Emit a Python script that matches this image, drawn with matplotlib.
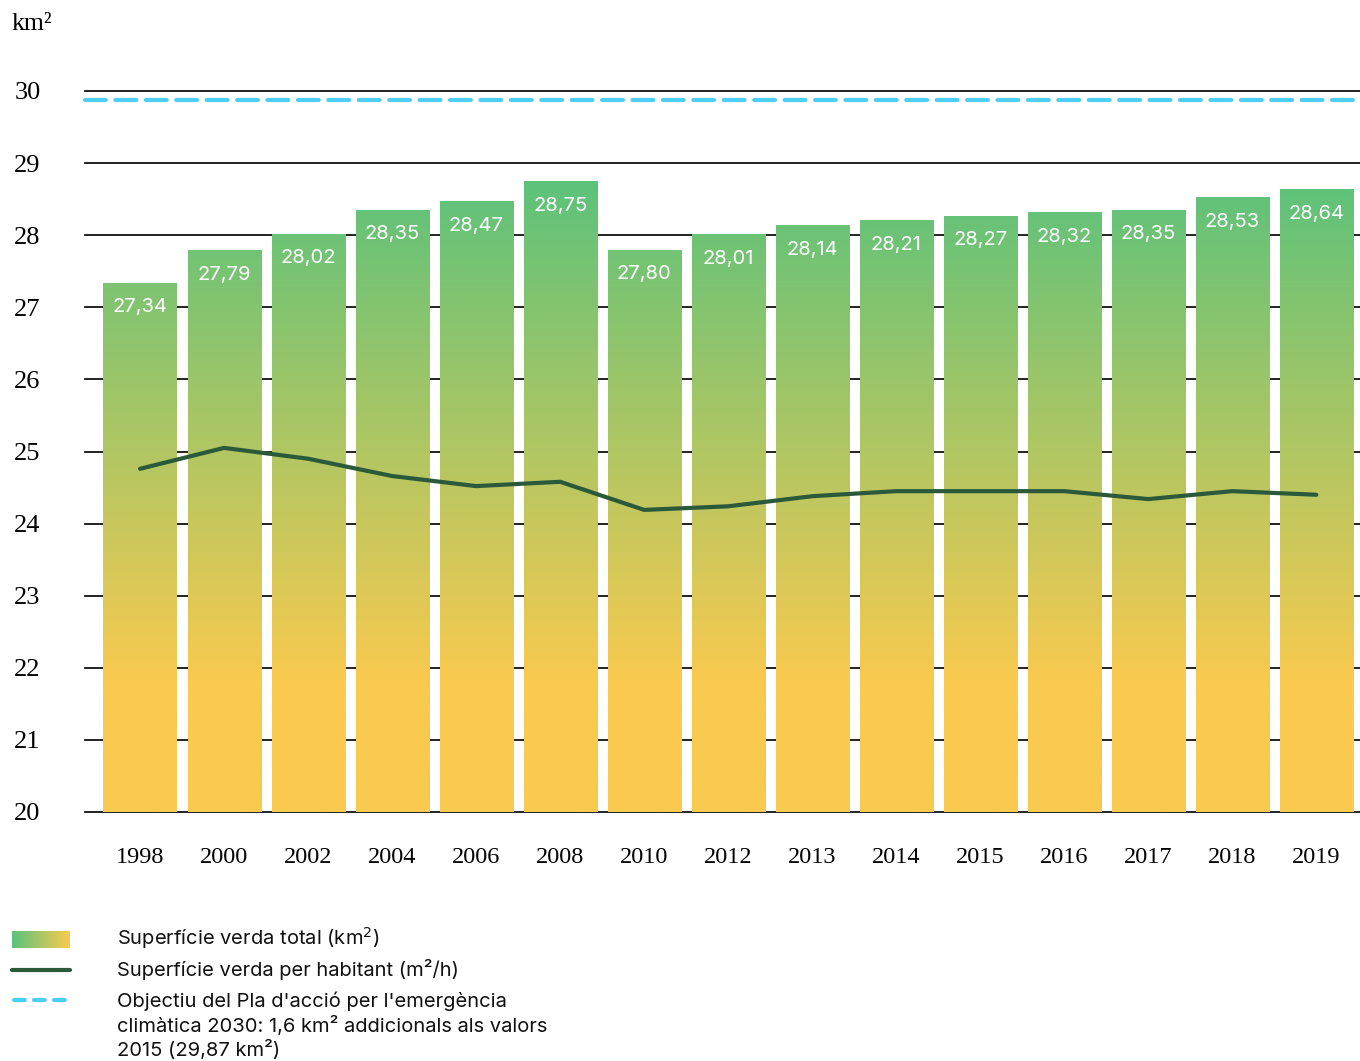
import matplotlib
matplotlib.use("Agg")
import matplotlib.pyplot as plt
import numpy as np
from matplotlib.colors import LinearSegmentedColormap
from matplotlib.lines import Line2D

years = ["1998", "2000", "2002", "2004", "2006", "2008", "2010", "2012",
         "2013", "2014", "2015", "2016", "2017", "2018", "2019"]
total_km2 = [27.34, 27.79, 28.02, 28.35, 28.47, 28.75, 27.80, 28.01,
             28.14, 28.21, 28.27, 28.32, 28.35, 28.53, 28.64]
per_habitant = [24.76, 25.05, 24.90, 24.66, 24.52, 24.58, 24.19, 24.24,
                24.38, 24.45, 24.45, 24.45, 24.34, 24.45, 24.40]
objective = 29.87
yticks = [20, 21, 22, 23, 24, 25, 26, 27, 28, 29, 30]

GREEN = "#5cc27b"
YELLOW = "#f9ca4f"
LINE = "#2b5a3a"
CYAN = "#4dcff5"

cmap = LinearSegmentedColormap.from_list("gy", [YELLOW, GREEN])

fig = plt.figure(figsize=(13.6, 10.61), dpi=100)
ax = fig.add_axes([85/1360, (1061-812)/1061, 1 - 85/1360, (812-91)/1061])
for s in ax.spines.values():
    s.set_visible(False)

x = np.arange(len(years))
w = 0.87
for yv in yticks:
    ax.axhline(yv, color="#111111", lw=1.3, zorder=1, clip_on=False)

bars = ax.bar(x, np.array(total_km2) - 20, bottom=20, width=w,
              color="none", edgecolor="none", zorder=2)
grad = np.linspace(20, 29, 400).reshape(-1, 1)
for b in bars:
    x0 = b.get_x()
    im = ax.imshow(grad, extent=[x0, x0 + b.get_width(), 20, 29], origin="lower",
                   aspect="auto", cmap=cmap, vmin=21.8, vmax=28.8, zorder=2,
                   interpolation="bilinear")
    im.set_clip_path(b)

for xi, v in zip(x, total_km2):
    ax.text(xi, v - 0.34, f"{v:.2f}".replace(".", ","), ha="center", va="center",
            color="white", fontsize=14.5, family="Inter", zorder=4)

ax.plot(x, per_habitant, color=LINE, lw=3, zorder=3, solid_capstyle="round",
        solid_joinstyle="round")
ax.axhline(objective, color=CYAN, lw=3, dashes=(5, 2.3), dash_capstyle="round",
           zorder=3, clip_on=False)

ax.set_xlim(-0.655, 14.52)
ax.set_ylim(20, 30)
ax.set_yticks(yticks)
ax.set_yticklabels([str(t) for t in yticks], family="Liberation Serif", fontsize=19)
ax.set_xticks(x)
ax.set_xticklabels(years, family="Liberation Serif", fontsize=17.5)
ax.tick_params(axis="both", length=0)
ax.tick_params(axis="y", pad=32)
ax.tick_params(axis="x", pad=25)

fig.text(12/1360, 1 - 24/1061, "km²", family="Liberation Serif", fontsize=18.5,
         va="center", ha="left")

# legend
lax = fig.add_axes([12/1360, 1 - 948/1061, 58/1360, 17/1061])
lax.imshow(np.linspace(1, 0, 100).reshape(1, -1), aspect="auto", cmap=cmap,
           vmin=0, vmax=1, interpolation="bilinear")
lax.axis("off")
fig.add_artist(Line2D([12/1360, 70/1360], [1 - 970/1061] * 2, color=LINE, lw=3,
                      solid_capstyle="round"))
fig.add_artist(Line2D([14/1360, 68/1360], [1 - 1000/1061] * 2, color=CYAN, lw=3,
                      dashes=(2.6, 2.2), dash_capstyle="round"))
lt = dict(family="Inter", fontsize=14.5, va="center", ha="left", color="#111111")
fig.text(117/1360, 1 - 938/1061, "Superfície verda total (km$^2$)", **lt)
fig.text(117/1360, 1 - 970/1061, "Superfície verda per habitant (m²/h)", **lt)
fig.text(117/1360, 1 - 1001/1061, "Objectiu del Pla d'acció per l'emergència", **lt)
fig.text(117/1360, 1 - 1026/1061, "climàtica 2030: 1,6 km² addicionals als valors", **lt)
fig.text(117/1360, 1 - 1050/1061, "2015 (29,87 km²)", **lt)

fig.savefig("out.png", dpi=100)
